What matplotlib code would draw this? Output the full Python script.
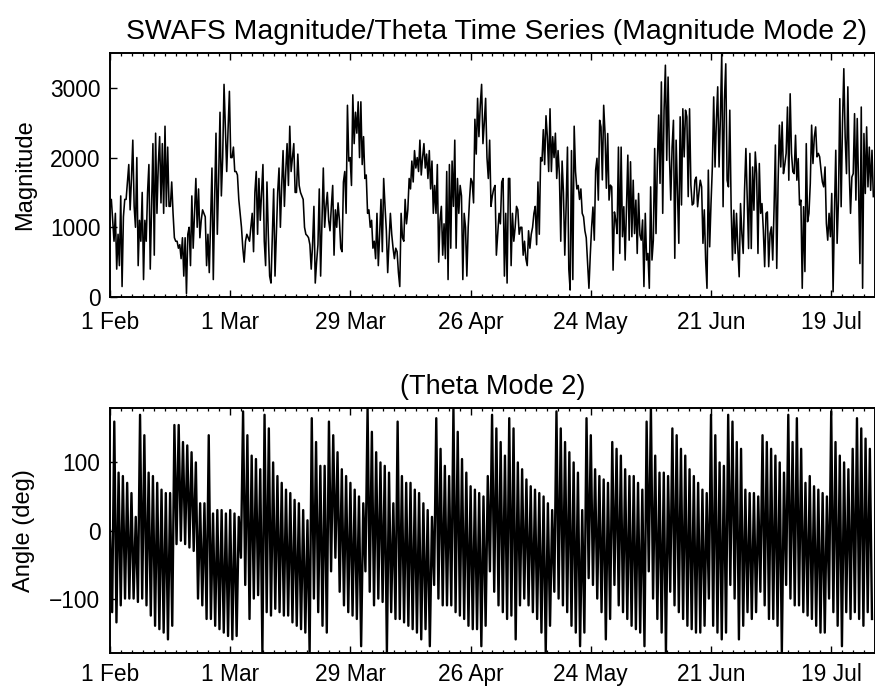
import matplotlib
matplotlib.use('Agg')
import matplotlib.pyplot as plt
import numpy as np
from matplotlib.ticker import FixedLocator, AutoMinorLocator

plt.rcParams['font.family'] = ['Liberation Sans', 'DejaVu Sans']

# ---------------- data ----------------
tick_days = [0, 28, 56, 84, 112, 140, 168]
tick_labels = ['1 Feb', '1 Mar', '29 Mar', '26 Apr', '24 May', '21 Jun', '19 Jul']

mag_step_days = 0.3125      # sampling interval of magnitude series (days)
theta_step_days = 0.5       # sampling interval of theta series (days)

mag_feb_mar = [
    1300, 1400, 1100, 800, 1200, 400, 900, 450, 1450, 150,
    1150, 1400, 1400, 1650, 1900, 1250, 1700, 2250, 1300, 1000,
    2000, 450, 1100, 800, 1500, 250, 1100, 800, 1500, 1900,
    400, 1300, 2200, 600, 2350, 1200, 1900, 2300, 1350, 2200,
    1200, 2450, 1300, 2150, 1300, 1300, 1650, 1200, 850, 800,
    800, 700, 750, 550, 850, 300, 850, 50, 900, 1000,
    450, 1450, 700, 1200, 1700, 1000, 1550, 850, 1100, 1250,
    1200, 1150, 450, 900, 350, 1100, 1850, 250, 1400, 2350,
    900, 1700, 2650, 1450, 2000, 3050, 2400, 1800, 2400, 2950,
    2000, 2000, 2150, 1800, 1800, 1750, 1400, 1200, 1000, 700,
    500, 800, 900, 850, 800, 1000, 1200, 650, 1500, 1800,
    900, 1700, 1100, 1500, 1900, 800, 450, 1650, 900, 300,
    200, 900, 1550, 300, 900, 1500, 1850, 1000, 1600, 2100,
    1300, 1800, 2200, 1600, 2450, 1800, 2000, 2200, 1500, 1500,
    2050, 1600, 1500]

mag_mar_may = [
    1450, 1400, 1000, 900, 880, 850, 750, 400, 750, 1300,
    200, 500, 750, 1550, 300, 1100, 1850, 1000, 1300, 1500,
    1100, 950, 1300, 1600, 600, 1250, 1000, 1350, 1100, 700,
    650, 1650, 1800, 1200, 2750, 1950, 2000, 1600, 2900, 2200,
    2650, 2350, 2800, 2000, 2800, 1900, 2300, 1700, 1750, 1200,
    1250, 1000, 1100, 700, 800, 550, 1200, 450, 900, 1400,
    650, 1700, 1300, 950, 350, 800, 1200, 900, 700, 550,
    700, 650, 350, 150, 1200, 850, 800, 1400, 1050, 1250,
    1700, 1550, 1950, 1650, 2100, 1850, 2000, 1800, 2250, 1750,
    2000, 2200, 1850, 2050, 1700, 2100, 1550, 1950, 1200, 1600,
    1200, 1900, 500, 1100, 1300, 600, 1050, 550, 1800, 250,
    1900, 700, 1950, 1300, 2250, 700, 1700, 1200, 1600, 1450,
    250, 1200, 1000, 300, 1000, 1400, 1700, 1650, 1350, 2550,
    2050, 2850, 2300, 2750, 3050, 2200, 2500, 2850, 2000, 1700,
    2250, 1300, 1450, 1550, 1600, 600, 900, 1200, 1050, 1650,
    1700, 300, 1200, 200, 1700, 1700, 450, 1200, 800, 1000,
    1300, 1250, 900, 1000, 1000, 600, 800, 550, 450, 950,
    700, 900, 1000, 1200, 1300, 750, 1650, 900, 2000, 1950,
    2400, 1900, 2600, 2300, 1800, 2700, 1800, 2300, 2000, 2350,
    1700, 2100, 1750, 800, 1950, 1500, 600, 1300, 2150, 400,
    100, 2100, 250, 2450, 1800, 1550, 1600, 1400, 1550, 1200,
    1150, 950, 850, 500]

mag_may_jul = [
    125, 600, 1000, 1290, 815, 1820, 1990, 1390, 2535, 2440, 1680,
    2750, 2345, 1560, 2345, 1390, 1605, 1580, 385, 1220, 1100,
    910, 2150, 625, 2150, 865, 1295, 530, 1300, 2035, 815, 1940,
    865, 1675, 910, 1390, 625, 1485, 890, 815, 1105, 150,
    1200, 530, 625, 125, 1580, 530, 815, 2130, 910, 1920,
    2610, 1630, 3085, 1200, 2680, 3325, 1960, 3155, 2035, 1390,
    2150, 2535, 555, 2250, 1530, 770, 2585, 1320, 2700, 2010,
    2680, 2585, 1440, 2700, 1605, 1320, 1340, 1675, 1720, 1295, 1500,
    1675, 1580, 770, 1250, 530, 125, 1820, 720, 1340, 1865,
    2870, 1865, 2535, 3015, 1865, 2585, 3490, 1295, 2820, 3345,
    1675, 1580, 2680, 1295, 530, 1245, 625, 1200, 695, 290,
    1340, 910, 625, 1530, 2130, 1400, 695, 2060, 695, 1865, 1245,
    2080, 1770, 625, 1915, 1200, 1340, 960, 435, 1200, 1220,
    435, 910, 1005, 530, 1270, 2180, 410, 1650, 2465, 1865,
    2510, 1770, 1900, 2060, 2725, 1675, 2915, 2060, 1795, 1770, 2320,
    1675, 1985, 1320, 1390, 125, 1295, 365, 2200, 1080, 1200,
    1630, 2465, 1915, 2295, 2440, 2010, 2060, 2010, 1820, 1650,
    1580, 1865, 1055, 815, 1200, 865, 1485, 75, 1200, 2105,
    770, 1390, 2845, 1295, 2485, 3275, 2295, 1770, 3015, 1820,
    1200, 1720, 1770, 2630, 1390, 2560, 1580, 480, 2725, 125,
    2345, 1485, 2440, 1580, 2150, 1530, 2105, 1440]

theta_high = [
    0, 160, 85, 80, 70, 55, 20, 170, 140, 85,
    80, 70, 60, 55, 55, 155, 155, 130, 125, 115,
    100, 40, 40, 140, 25, 30, 30, 25, 30, 25,
    20, 175, 140, 110, 105, 90, 170, 150, 100, 80,
    70, 60, 55, 45, 40, 30, 15, 165, 130, 95,
    95, 160, 140, 115, 90, 80, 70, 60, 50, 40,
    180, 145, 115, 100, 95, 85, 40, 160, 80, 70,
    70, 60, 55, 40, 30, 20, 165, 120, 95, 80,
    180, 145, 105, 85, 65, 60, 55, 50, 80, 170,
    150, 130, 110, 165, 150, 100, 90, 75, 65, 60,
    55, 50, 40, 30, 175, 150, 130, 115, 100, 85,
    30, 165, 140, 90, 80, 75, 70, 130, 120, 110,
    90, 80, 80, 70, 60, 160, 180, 110, 85, 85,
    80, 150, 140, 120, 110, 90, 80, 70, 60, 55,
    170, 140, 100, 95, 170, 160, 130, 120, 60, 55,
    55, 50, 140, 130, 120, 110, 100, 85, 170, 130,
    165, 120, 70, 80, 65, 60, 55, 50, 175, 130,
    110, 100, 90, 120, 165, 150, 135, 120]

theta_low = [
    -120, -135, -110, -100, -100, -100, -105, -100, -110, -125,
    -140, -145, -150, -160, -140, -20, -15, -20, -25, -30,
    -100, -110, -130, -130, -140, -145, -150, -155, -160, -155,
    -40, -80, -130, -100, -95, -180, -120, -125, -115, -120,
    -125, -125, -135, -140, -145, -150, -180, -100, -120, -140,
    -150, -60, -40, -90, -110, -120, -125, -130, -170, -60,
    -90, -110, -100, -105, -180, -120, -130, -130, -135, -140,
    -145, -150, -160, -145, -170, -80, -100, -110, -110, -110,
    -120, -125, -130, -140, -145, -145, -170, -140, -60, -90,
    -110, -120, -130, -125, -160, -110, -100, -110, -120, -130,
    -150, -180, -140, -90, -100, -110, -120, -140, -150, -170,
    -150, -70, -80, -100, -120, -160, -130, -80, -110, -120,
    -130, -140, -145, -150, -170, -60, -100, -130, -150, -180,
    -90, -110, -120, -130, -140, -145, -150, -150, -140, -100,
    -140, -150, -160, -150, -80, -100, -160, -140, -120, -130,
    -120, -90, -110, -130, -130, -140, -180, -80, -100, -110,
    -110, -120, -125, -130, -140, -150, -150, -100, -120, -140,
    -170, -120, -130, -120, -130, -140, -120, -130]

# ---------------- build series ----------------
mag = np.concatenate([mag_feb_mar, mag_mar_may, mag_may_jul]).astype(float)
t_mag = np.arange(len(mag)) * mag_step_days
theta = np.column_stack([theta_high, theta_low]).ravel().astype(float)
t_theta = np.arange(len(theta)) * theta_step_days

# ---------------- figure ----------------
W, H = 875, 687
fig = plt.figure(figsize=(W / 100, H / 100), dpi=100)
ax1 = fig.add_axes([110 / W, 1 - 297 / H, 765 / W, 244 / H])
ax2 = fig.add_axes([110 / W, 1 - 653 / H, 765 / W, 245 / H])

ax1.plot(t_mag, mag, color='black', lw=1.15)
ax2.plot(t_theta, theta, color='black', lw=1.7)

ax1.set_ylim(0, 3500)
ax1.set_yticks([0, 1000, 2000, 3000])
ax2.set_ylim(-180, 180)
ax2.set_yticks([-100, 0, 100])

for ax, xpad in ((ax1, 10), (ax2, 7)):
    ax.set_xlim(0, 178.2)
    ax.xaxis.set_major_locator(FixedLocator(tick_days))
    ax.set_xticklabels(tick_labels)
    ax.xaxis.set_minor_locator(AutoMinorLocator(11))
    ax.tick_params(axis='x', which='major', direction='in', top=True,
                   length=5, width=1.0, labelsize=16.4, pad=xpad)
    ax.tick_params(axis='x', which='minor', direction='in', top=True,
                   length=2.5, width=0.9)
    ax.tick_params(axis='y', which='major', direction='in', left=True,
                   right=False, length=5, width=1.0, labelsize=16.4, pad=7)
    for s in ax.spines.values():
        s.set_linewidth(1.4)

ax1.set_ylabel('Magnitude', fontsize=17, labelpad=10)
ax2.set_ylabel('Angle (deg)', fontsize=17, labelpad=10)
ax1.set_title('SWAFS Magnitude/Theta Time Series (Magnitude Mode 2)',
              fontsize=20.4, pad=10, x=0.505)
ax2.set_title('(Theta Mode 2)', fontsize=19.5, pad=10)

fig.savefig('out.png', dpi=100)
